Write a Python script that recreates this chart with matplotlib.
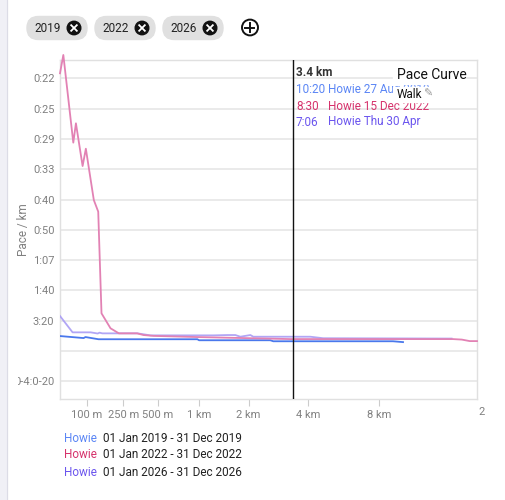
import numpy as np
import matplotlib
matplotlib.use('Agg')
import matplotlib.pyplot as plt
from matplotlib.patches import FancyBboxPatch, Circle, Rectangle
from matplotlib.lines import Line2D
from matplotlib.transforms import Bbox, TransformedBbox

plt.rcParams['font.family'] = ['Roboto', 'DejaVu Sans']

# dane: dystans [m], predkosc [km/h]
dist_2019 = [43.5, 92, 97, 138, 975, 1000, 2617, 2712, 9030, 9830]
speed_2019 = [8.9, 7.7, 8.3, 7.0, 7.0, 6.4, 6.4, 5.8, 5.8, 5.3]

dist_2022 = [43.5, 48.8, 67.5, 73.2, 89.3, 98, 122, 137, 149, 186, 226, 335,
             381, 461, 975, 3300, 14640, 15650, 16600, 17500]
speed_2022 = [165.0, 175.9, 123.8, 135.3, 109.9, 120.2, 89.7, 82.8, 22.4,
              13.5, 10.5, 10.5, 9.5, 9.0, 8.3, 7.1, 7.1, 6.8, 5.9, 5.9]

dist_2026 = [43.5, 66, 112, 135, 142, 152, 337, 436, 1238, 1508, 1683, 1799,
             2048, 2125, 4102, 4691, 14500]
speed_2026 = [20.8, 11.1, 11.1, 10.4, 10.9, 10.5, 10.5, 9.3, 9.3, 9.5, 9.5,
              8.5, 9.5, 8.5, 8.5, 7.6, 7.4]

ytick_speed = [-18, 0, 18, 36, 54, 72, 90, 108, 126, 144, 162]
ytick_labels = ['0-4:0-20', '', '3:20', '1:40', '1:07', '0:50', '0:40',
                '0:33', '0:29', '0:25', '0:22']
xtick_dist = [100, 250, 500, 1000, 2000, 4000, 8000]
xtick_labels = ['100 m', '250 m', '500 m', '1 km', '2 km', '4 km', '8 km']

cursor_m = 3400
years = ['2019', '2022', '2026']
tip_pace = ['10:20', '8:30', '7:06']
tip_text = ['Howie 27 Aug 2019', 'Howie 15 Dec 2022', 'Howie Thu 30 Apr']
legend_text = ['01 Jan 2019 - 31 Dec 2019', '01 Jan 2022 - 31 Dec 2022',
               '01 Jan 2026 - 31 Dec 2026']

line_col = ['#4a78ec', '#e282b4', '#a99cf4']
text_col = ['#5b86f5', '#d6336c', '#6b55ee']

W, H = 506, 500


def fx(px):
    return px / W


def fy(py):
    return 1 - py / H


fig = plt.figure(figsize=(W / 100, H / 100), dpi=100)

# lewy pasek
fig.patches.append(Rectangle((0, 0), fx(7), 1, transform=fig.transFigure,
                             color='#f0f0f6', zorder=0))
fig.add_artist(Line2D([fx(7), fx(7)], [0, 1], color='#dcdce6', lw=0.8))

ax = fig.add_axes([fx(60), fy(399), fx(477 - 60), (399 - 60) / H])

p = 0.263
ax.set_xscale('function', functions=(lambda d: np.power(np.maximum(d, 1e-9), p),
                                     lambda u: np.power(np.maximum(u, 1e-9), 1 / p)))
ax.set_xlim(43.5, 17500)
ax.set_ylim(-28.5, 172.9)

ax.plot(dist_2019, speed_2019, color=line_col[0], lw=1.3, zorder=3)
ax.plot(dist_2022, speed_2022, color=line_col[1], lw=1.3, zorder=4, clip_on=False)
ax.plot(dist_2026, speed_2026, color=line_col[2], lw=1.3, zorder=3.5, alpha=0.9)
ax.axvline(cursor_m, color='#111111', lw=1.0, zorder=5)

ax.set_yticks(ytick_speed, ytick_labels)
ax.set_xticks(xtick_dist, xtick_labels)
ax.xaxis.set_minor_locator(matplotlib.ticker.NullLocator())
ax.tick_params(axis='y', length=0, pad=4, labelsize=8, labelcolor='#808080')
ax.tick_params(axis='x', length=5, width=0.8, color='#cccccc', pad=3,
               labelsize=8, labelcolor='#808080')
ax.grid(axis='y', color='#e6e6e6', lw=1.2)
ax.set_axisbelow(True)
for s in ax.spines.values():
    s.set_color('#e0e0e0')
    s.set_linewidth(1.0)
ax.set_ylabel('Pace / km', color='#808080', fontsize=8.5)
ax.yaxis.set_label_coords((30 - 60) / 417, 0.5)

# obciety napis przy lewej krawedzi
lab = ax.yaxis.get_major_ticks()[0].label1
lab.set_clip_on(True)
lab.set_clip_box(TransformedBbox(Bbox.from_extents(fx(18), 0, 1, 1), fig.transFigure))

fig.text(fx(482), fy(412), '2', ha='center', va='center', fontsize=8, color='#808080')

# tooltip
fig.text(fx(296), fy(72), '3.4 km', ha='left', va='center', fontsize=8.5,
         color='#333333', fontweight='bold')
for i in range(3):
    y = fy(90 + 16 * i)
    fig.text(fx(296), y, tip_pace[i], ha='left', va='center', fontsize=8.5, color=text_col[i])
    fig.text(fx(328), y, tip_text[i], ha='left', va='center', fontsize=8.5, color=text_col[i])

fig.patches.append(Rectangle((fx(393), fy(84)), fx(72), 22 / H, transform=fig.transFigure,
                             color='white', zorder=5))
fig.patches.append(Rectangle((fx(393), fy(101.5)), fx(40), 15 / H, transform=fig.transFigure,
                             color='white', zorder=5))
t = fig.text(fx(397), fy(75), 'Pace Curve', ha='left', va='center', fontsize=10, color='#111111')
t.set_zorder(6)
t = fig.text(fx(397), fy(94), 'Walk', ha='left', va='center', fontsize=8.5, color='#111111')
t.set_zorder(6)
t = fig.text(fx(423), fy(94), '\u270e', ha='left', va='center', fontsize=8,
             color='#999999', family=['DejaVu Sans'])
t.set_zorder(6)

# chipy z latami
chip_x = [27, 95, 163]
for i, yr in enumerate(years):
    x0 = chip_x[i]
    fig.patches.append(FancyBboxPatch((fx(x0), fy(39.5)), fx(60), 23 / H,
                                      boxstyle='round,pad=0,rounding_size=0.0225',
                                      transform=fig.transFigure, color='#e0e0e0',
                                      mutation_aspect=1))
    fig.text(fx(x0 + 21), fy(28), yr, ha='center', va='center', fontsize=8.5, color='#222222')
    cx, cy = x0 + 47, 28
    fig.patches.append(Circle((fx(cx), fy(cy)), fx(6.8), transform=fig.transFigure,
                              color='#111111'))
    for dx in (1, -1):
        fig.add_artist(Line2D([fx(cx - 2.8), fx(cx + 2.8)], [fy(cy - 2.8 * dx), fy(cy + 2.8 * dx)],
                              color='white', lw=1.3))

fig.patches.append(Circle((fx(250), fy(27.5)), fx(8), transform=fig.transFigure,
                          fill=False, ec='#111111', lw=1.4))
fig.add_artist(Line2D([fx(245.5), fx(254.5)], [fy(27.5), fy(27.5)], color='#111111', lw=1.4))
fig.add_artist(Line2D([fx(250), fx(250)], [fy(23), fy(32)], color='#111111', lw=1.4))

# legenda
for i in range(3):
    y = fy(438 + 17 * i)
    fig.text(fx(64), y, 'Howie', ha='left', va='center', fontsize=8.5, color=text_col[i])
    fig.text(fx(103), y, legend_text[i], ha='left', va='center', fontsize=8.5, color='#222222')

fig.savefig('out.png', dpi=100)
